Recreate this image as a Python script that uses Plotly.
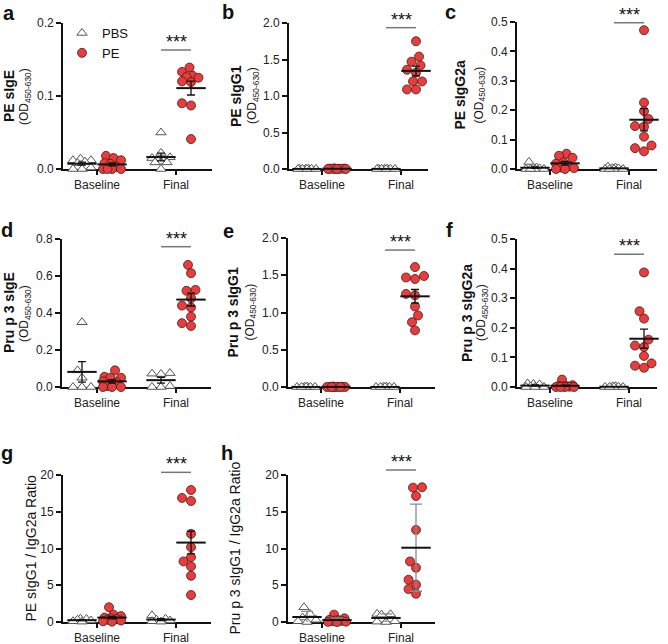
import numpy as np
import plotly.graph_objects as go

# ---- data ----
groups = ['Baseline', 'Final']

pe_sige_pbs_base = [0.014, 0.012, 0.012, 0.010, 0.008, 0.002, 0.0, 0.0]
pe_sige_pe_base = [0.018, 0.015, 0.012, 0.008, 0.007, 0.003, 0.0, 0.0, 0.0, 0.0]
pe_sige_pbs_final = [0.050, 0.022, 0.016, 0.015, 0.010, 0.009, 0.009, 0.0]
pe_sige_pe_final = [0.139, 0.133, 0.128, 0.126, 0.125, 0.120, 0.119, 0.090, 0.087, 0.041]

pe_sigg1_pbs_base = [0.004, 0.003, 0.002, 0.002, 0.001, 0.0, 0.0, 0.0]
pe_sigg1_pe_base = [0.008, 0.006, 0.005, 0.004, 0.003, 0.003, 0.002, 0.001, 0.0, 0.0]
pe_sigg1_pbs_final = [0.004, 0.003, 0.002, 0.001, 0.001, 0.0, 0.0, 0.0]
pe_sigg1_pe_final = [1.75, 1.54, 1.47, 1.42, 1.36, 1.32, 1.20, 1.20, 1.09, 1.09]

pe_sigg2a_pbs_base = [0.024, 0.005, 0.003, 0.002, 0.0, 0.0, 0.0, 0.0]
pe_sigg2a_pe_base = [0.052, 0.045, 0.038, 0.022, 0.018, 0.010, 0.005, 0.003, 0.0, 0.0]
pe_sigg2a_pbs_final = [0.008, 0.005, 0.003, 0.002, 0.0, 0.0, 0.0, 0.0]
pe_sigg2a_pe_final = [0.472, 0.226, 0.197, 0.170, 0.146, 0.144, 0.110, 0.080, 0.071, 0.060]

pru_sige_pbs_base = [0.35, 0.09, 0.05, 0.0, 0.0, 0.0]
pru_sige_pe_base = [0.09, 0.055, 0.05, 0.05, 0.03, 0.025, 0.005, 0.0, 0.0, 0.0]
pru_sige_pbs_final = [0.075, 0.072, 0.07, 0.005, 0.0, 0.0]
pru_sige_pe_final = [0.66, 0.615, 0.525, 0.52, 0.48, 0.44, 0.43, 0.38, 0.345, 0.33]

pru_sigg1_pbs_base = [0.003, 0.002, 0.001, 0.0, 0.0, 0.0, 0.0]
pru_sigg1_pe_base = [0.006, 0.004, 0.003, 0.002, 0.001, 0.0, 0.0, 0.0, 0.0, 0.0]
pru_sigg1_pbs_final = [0.003, 0.002, 0.001, 0.0, 0.0, 0.0, 0.0]
pru_sigg1_pe_final = [1.61, 1.49, 1.47, 1.45, 1.25, 1.23, 1.08, 0.96, 0.87, 0.76]

pru_sigg2a_pbs_base = [0.012, 0.010, 0.009, 0.002, 0.0, 0.0, 0.0]
pru_sigg2a_pe_base = [0.025, 0.006, 0.004, 0.003, 0.002, 0.001, 0.0, 0.0, 0.0, 0.0]
pru_sigg2a_pbs_final = [0.003, 0.002, 0.001, 0.0, 0.0, 0.0, 0.0]
pru_sigg2a_pe_final = [0.387, 0.256, 0.231, 0.160, 0.140, 0.135, 0.105, 0.080, 0.072, 0.065]

pe_ratio_pbs_base = [0.45, 0.40, 0.30, 0.20, 0.10, 0.05]
pe_ratio_pe_base = [2.0, 1.0, 0.8, 0.6, 0.5, 0.4, 0.3, 0.2, 0.1, 0.05]
pe_ratio_pbs_final = [0.9, 0.45, 0.3, 0.2, 0.1, 0.05]
pe_ratio_pe_final = [17.96, 16.88, 16.47, 11.99, 10.18, 8.82, 8.24, 7.56, 6.29, 3.67]

pru_ratio_pbs_base = [2.0, 1.1, 0.6, 0.3, 0.1, 0.0]
pru_ratio_pe_base = [1.0, 0.5, 0.3, 0.25, 0.2, 0.15, 0.1, 0.05, 0.02, 0.0]
pru_ratio_pbs_final = [1.1, 1.05, 1.0, 0.1, 0.05, 0.0]
pru_ratio_pe_final = [18.33, 18.28, 17.15, 12.53, 8.24, 7.38, 5.75, 5.07, 4.48, 3.85]

W, H = 668, 644
FONT = "Arial, 'Liberation Sans', sans-serif"
RED = '#EC3B3B'
PX_PER_GROUP = 79.0
OFF = 0.19


def px_x(v):
    return v / W


def px_y(v):
    return 1 - v / H


# panel layout in pixels: plot box (left, right, top, bottom), baseline tick x,
# y max, tick step, format, title x centres, significance bar height (domain frac)
panels = [
    dict(tag='a', box=(63, 212, 23, 169), base=97, ymax=0.2, dtick=0.1, fmt='.1f',
         title='PE sIgE', tx=(9, 25), data=(pe_sige_pbs_base, pe_sige_pe_base, pe_sige_pbs_final, pe_sige_pe_final),
         sig=0.815, letter=(9, 13), err='sem'),
    dict(tag='b', box=(289, 428, 23, 169), base=322, ymax=2.0, dtick=0.5, fmt='.1f',
         title='PE sIgG1', tx=(236, 253), data=(pe_sigg1_pbs_base, pe_sigg1_pe_base, pe_sigg1_pbs_final, pe_sigg1_pe_final),
         sig=0.968, letter=(228, 12), err='sem'),
    dict(tag='c', box=(517, 657, 22, 169), base=550, ymax=0.5, dtick=0.1, fmt='.1f',
         title='PE sIgG2a', tx=(460, 480), data=(pe_sigg2a_pbs_base, pe_sigg2a_pe_base, pe_sigg2a_pbs_final, pe_sigg2a_pe_final),
         sig=0.995, letter=(450, 12), err='sem'),
    dict(tag='d', box=(62, 211, 239, 387), base=97, ymax=0.8, dtick=0.2, fmt='.1f',
         title='Pru p 3 sIgE', tx=(9, 25), data=(pru_sige_pbs_base, pru_sige_pe_base, pru_sige_pbs_final, pru_sige_pe_final),
         sig=0.948, letter=(7, 230), err='sem'),
    dict(tag='e', box=(288, 435, 238, 387), base=321, ymax=2.0, dtick=0.5, fmt='.1f',
         title='Pru p 3 sIgG1', tx=(232, 250), data=(pru_sigg1_pbs_base, pru_sigg1_pe_base, pru_sigg1_pbs_final, pru_sigg1_pe_final),
         sig=0.919, letter=(228, 231), err='sem'),
    dict(tag='f', box=(517, 657, 239, 387), base=550, ymax=0.5, dtick=0.1, fmt='.1f',
         title='Pru p 3 sIgG2a', tx=(467, 482), data=(pru_sigg2a_pbs_base, pru_sigg2a_pe_base, pru_sigg2a_pbs_final, pru_sigg2a_pe_final),
         sig=0.897, letter=(449, 230), err='sem'),
    dict(tag='g', box=(63, 211, 475, 622), base=97, ymax=20, dtick=5, fmt='d',
         title='PE sIgG1 / IgG2a Ratio', tx=(30, None), data=(pe_ratio_pbs_base, pe_ratio_pe_base, pe_ratio_pbs_final, pe_ratio_pe_final),
         sig=1.018, letter=(7, 453), err='sem'),
    dict(tag='h', box=(288, 435, 475, 622), base=322, ymax=20, dtick=5, fmt='d',
         title='Pru p 3 sIgG1 / IgG2a Ratio', tx=(234, None), data=(pru_ratio_pbs_base, pru_ratio_pe_base, pru_ratio_pbs_final, pru_ratio_pe_final),
         sig=1.034, letter=(227, 453), err='sd'),
]


def swarm(vals, ppu, d=8.5, half=9.0, step=1.5):
    '''Greedy beeswarm, returns horizontal offsets in px'''
    order = sorted(range(len(vals)), key=lambda i: vals[i])
    cands = sorted(np.arange(-half, half + 1e-9, step), key=lambda v: (abs(v), v))
    placed, off = [], [0.0] * len(vals)
    for i in order:
        y = vals[i] * ppu
        best, bestd = 0.0, -1.0
        for c in cands:
            md = min([np.hypot(c - px, y - py) for px, py in placed], default=1e9)
            if md >= d:
                best = c
                break
            if md > bestd:
                best, bestd = c, md
        placed.append((best, y))
        off[i] = best
    return off


fig = go.Figure()
shapes, annos = [], []

for k, p in enumerate(panels, start=1):
    L, R, T, B = p['box']
    sfx = '' if k == 1 else str(k)
    xs, ys = 'x' + sfx, 'y' + sfx
    ppu_y = (B - T) / p['ymax']
    pbs_b, pe_b, pbs_f, pe_f = p['data']

    def place(vals, centre):
        return [centre + o / PX_PER_GROUP for o in swarm(vals, ppu_y)]

    pbs_x = place(pbs_b, -OFF) + place(pbs_f, 1 - OFF)
    pe_x = place(pe_b, OFF) + place(pe_f, 1 + OFF)

    fig.add_trace(go.Scatter(
        x=pbs_x, y=list(pbs_b) + list(pbs_f), mode='markers', name='PBS',
        xaxis=xs, yaxis=ys, cliponaxis=False, showlegend=(k == 1), legendgroup='PBS',
        marker=dict(symbol='triangle-up', size=9, color='white', line=dict(color='#555555', width=1))))
    fig.add_trace(go.Scatter(
        x=pe_x, y=list(pe_b) + list(pe_f), mode='markers', name='PE',
        xaxis=xs, yaxis=ys, cliponaxis=False, showlegend=(k == 1), legendgroup='PE',
        marker=dict(symbol='circle', size=9, color=RED, line=dict(color='#3a2020', width=0.8))))

    sets = [pbs_b, pe_b, pbs_f, pe_f]
    means = [np.mean(s) for s in sets]
    if p['err'] == 'sd':
        errs = [np.std(s, ddof=1) for s in sets]
        ecol, ew = '#8a8a8a', 6
    else:
        errs = [np.std(s, ddof=1) / np.sqrt(len(s)) for s in sets]
        ecol, ew = '#111111', 4
    fig.add_trace(go.Scatter(
        x=[-OFF, OFF, 1 - OFF, 1 + OFF], y=means, mode='markers', showlegend=False,
        xaxis=xs, yaxis=ys, cliponaxis=False, hoverinfo='skip',
        error_y=dict(type='data', array=errs, visible=True, color=ecol, thickness=1.3, width=ew),
        marker=dict(symbol='line-ew', size=21, color='#111111', line=dict(color='#111111', width=2))))

    ax = dict(domain=[px_x(L), px_x(R)],
              range=[(L - p['base']) / PX_PER_GROUP, (R - p['base']) / PX_PER_GROUP],
              tickvals=[0, 1], ticktext=groups, ticks='outside', ticklen=4, tickwidth=1.5,
              tickcolor='#111', showline=True, linewidth=1.8, linecolor='#111', showgrid=False,
              zeroline=False, layer='below traces', anchor=ys, fixedrange=True, automargin=False,
              tickfont=dict(size=12, color='#222', family=FONT))
    ay = dict(domain=[px_y(B), px_y(T)], range=[0, p['ymax']], dtick=p['dtick'], tick0=0,
              tickformat=p['fmt'], ticks='outside', ticklen=5, tickwidth=1.5, tickcolor='#111',
              showline=True, linewidth=1.8, linecolor='#111', showgrid=False, zeroline=False,
              layer='below traces', anchor=xs, fixedrange=True, automargin=False,
              tickfont=dict(size=12, color='#222', family=FONT))
    fig.update_layout({'xaxis' + sfx: ax, 'yaxis' + sfx: ay})

    # significance bar
    shapes.append(dict(type='line', xref=xs, yref=f'{ys} domain', x0=1 - OFF, x1=1 + OFF,
                       y0=p['sig'], y1=p['sig'], line=dict(color='#777777', width=1.5)))
    annos.append(dict(xref=xs, yref=f'{ys} domain', x=1, y=p['sig'], yshift=-4, text='***',
                      showarrow=False, xanchor='center', yanchor='bottom',
                      font=dict(size=18, color='#111', family=FONT)))

    # y titles
    ymid = px_y((T + B) / 2)
    bx, sx = p['tx']
    if sx is None:
        annos.append(dict(xref='paper', yref='paper', x=px_x(bx), y=ymid, text=p['title'],
                          textangle=-90, showarrow=False, xanchor='center', yanchor='middle',
                          font=dict(size=14, color='#111', family=FONT)))
    else:
        annos.append(dict(xref='paper', yref='paper', x=px_x(bx), y=ymid, text=f"<b>{p['title']}</b>",
                          textangle=-90, showarrow=False, xanchor='center', yanchor='middle',
                          font=dict(size=14, color='#111', family=FONT)))
        annos.append(dict(xref='paper', yref='paper', x=px_x(sx), y=ymid,
                          text='(OD<sub>450-630</sub>)',
                          textangle=-90, showarrow=False, xanchor='center', yanchor='middle',
                          font=dict(size=12, color='#111', family=FONT)))

    # panel letter
    lx, ly = p['letter']
    annos.append(dict(xref='paper', yref='paper', x=px_x(lx), y=px_y(ly), text=f"<b>{p['tag']}</b>",
                      showarrow=False, xanchor='center', yanchor='middle',
                      font=dict(size=20, color='#111', family=FONT)))

fig.update_layout(
    template='none',
    width=W, height=H, margin=dict(l=0, r=0, t=0, b=0, autoexpand=False),
    paper_bgcolor='white', plot_bgcolor='white',
    font=dict(family=FONT, color='#111'),
    shapes=shapes, annotations=annos,
    legend=dict(x=px_x(62), y=px_y(18), xanchor='left', yanchor='top', bgcolor='rgba(0,0,0,0)',
                font=dict(size=13, family=FONT, color='#111'), tracegroupgap=0, itemwidth=30),
)

# drop the browser's default body margin so the figure sits at the page origin
fig.write_html("out.html", config={'displayModeBar': False},
               post_script="document.body.style.margin='0';")
